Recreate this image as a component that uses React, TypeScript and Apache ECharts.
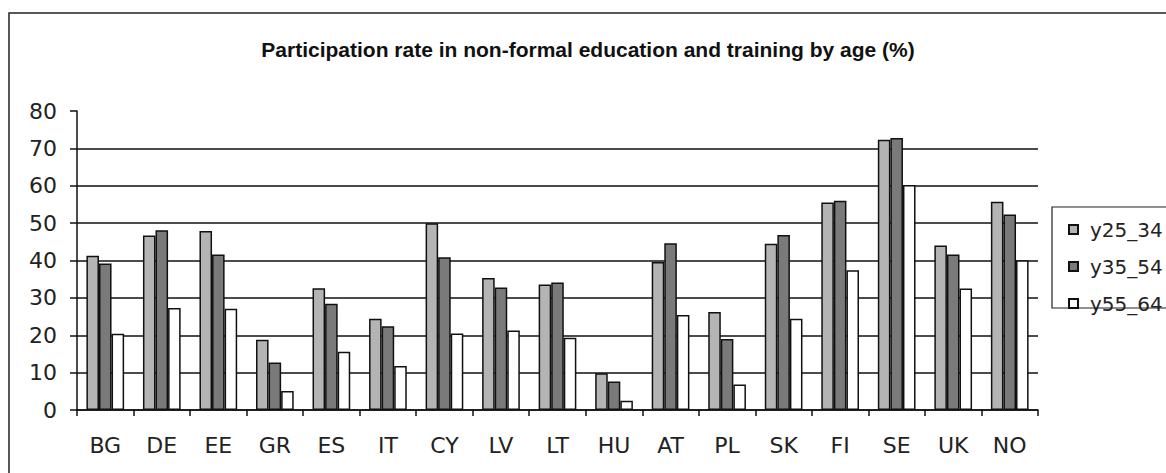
import React, { useEffect, useRef } from "react";
import * as echarts from "echarts";

const categories = ["BG", "DE", "EE", "GR", "ES", "IT", "CY", "LV", "LT", "HU", "AT", "PL", "SK", "FI", "SE", "UK", "NO"];
const y25_34 = [41.3, 46.7, 47.9, 18.8, 32.6, 24.4, 50.0, 35.3, 33.6, 9.8, 39.6, 26.2, 44.5, 55.5, 72.3, 44.0, 55.7];
const y35_54 = [39.2, 48.1, 41.6, 12.7, 28.4, 22.4, 40.9, 32.8, 34.1, 7.6, 44.6, 19.0, 46.8, 56.0, 72.8, 41.6, 52.3];
const y55_64 = [20.4, 27.3, 27.1, 5.1, 15.6, 11.8, 20.5, 21.3, 19.3, 2.5, 25.4, 6.8, 24.4, 37.4, 60.2, 32.5, 40.1];
const seriesNames = ["y25_34", "y35_54", "y55_64"];
const title = "Participation rate in non-formal education and training by age (%)";

const FONT = "'Liberation Sans', Arial, sans-serif";
const AXFONT = "'DejaVu Sans', sans-serif";

export default function App() {
  const ref = useRef<HTMLDivElement>(null);
  useEffect(() => {
    if (!ref.current) return;
    const chart = echarts.init(ref.current, null, { renderer: "svg" });
    const colors = ["#b4b4b4", "#7a7a7a", "#ffffff"];
    const data = [y25_34, y35_54, y55_64];
    chart.setOption({
      animation: false,
      backgroundColor: "#ffffff",
      title: {
        text: title,
        left: 583,
        top: 34,
        textAlign: "center",
        textStyle: { fontFamily: FONT, fontSize: 21, fontWeight: "bold", color: "#111" },
      },
      graphic: [
        {
          type: "rect",
          shape: { x: 9, y: 13, width: 1200, height: 500 },
          style: { fill: "none", stroke: "#222", lineWidth: 1.5 },
          silent: true,
          z: 0,
        },
        {
          type: "rect",
          shape: { x: 1052, y: 207, width: 130, height: 101 },
          style: { fill: "none", stroke: "#222", lineWidth: 1.2 },
          silent: true,
          z: 0,
        },
      ],
      legend: {
        orient: "vertical",
        left: 1063,
        top: 214,
        itemWidth: 9,
        itemHeight: 9,
        itemGap: 16,
        icon: "rect",
        textStyle: { fontFamily: AXFONT, fontSize: 20, color: "#222", lineHeight: 21, padding: [0, 0, 0, 7] },
        data: seriesNames,
      },
      grid: { left: 77, right: 128, top: 111, bottom: 63, containLabel: false },
      xAxis: {
        type: "category",
        data: categories,
        boundaryGap: true,
        axisLine: { lineStyle: { color: "#111", width: 1.5 } },
        axisTick: { show: true, length: 6, lineStyle: { color: "#111", width: 1.5 } },
        axisLabel: { fontFamily: AXFONT, fontSize: 22, color: "#222", margin: 24 },
      },
      yAxis: {
        type: "value",
        min: 0,
        max: 80,
        interval: 10,
        axisLine: { show: true, lineStyle: { color: "#111", width: 1.5 } },
        axisTick: { show: true, length: 7, lineStyle: { color: "#111", width: 1.5 } },
        axisLabel: { fontFamily: AXFONT, fontSize: 22, color: "#222", margin: 20 },
        splitLine: { show: true, showMaxLine: false, lineStyle: { color: "#111", width: 1.5 } },
      },
      series: seriesNames.map((name, i) => ({
        name,
        type: "bar",
        data: data[i],
        barGap: "0%",
        barCategoryGap: "33.3%",
        itemStyle: { color: colors[i], borderColor: "#111", borderWidth: 1.5 },
      })),
    });
    return () => chart.dispose();
  }, []);
  return <div ref={ref} style={{ position: "fixed", left: 0, top: 0, width: 1166, height: 473 }} />;
}
